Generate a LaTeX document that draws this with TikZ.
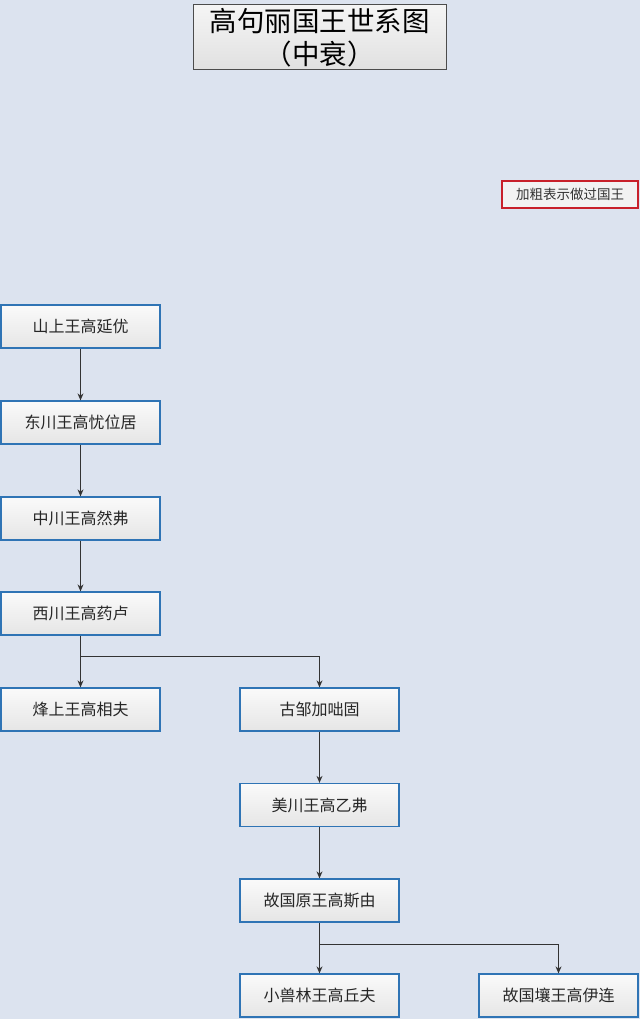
\documentclass[tikz,border=0pt]{standalone}
\usepackage{fontspec}
\newfontfamily\cjk{Noto Sans CJK SC}
\usetikzlibrary{arrows.meta}
\definecolor{bgcol}{HTML}{DCE3EF}
\definecolor{boxblue}{HTML}{2F74B5}
\definecolor{legred}{HTML}{C8202A}
\begin{document}
\begin{tikzpicture}[x=1pt,y=-1pt,
 box/.style={draw=boxblue, line width=1.3pt, top color=white!96!gray, bottom color=black!10, minimum width=159pt, minimum height=43pt, inner sep=0pt, font=\cjk\fontsize{16}{18}\selectfont, text=black!85},
 titlebox/.style={draw=black!70, line width=1pt, top color=white!92!gray, bottom color=black!12, minimum width=253pt, minimum height=65pt, inner sep=0pt, align=center, font=\cjk\fontsize{27.5}{33}\selectfont},
 legend/.style={draw=legred, line width=1.2pt, fill=black!5, minimum width=136pt, minimum height=27pt, inner sep=0pt, font=\cjk\fontsize{13.5}{15}\selectfont, text=black!80},
 conn/.style={draw=black!80, line width=1pt, -{Stealth[length=7pt,width=6pt]}},
]
\fill[bgcol] (0,0) rectangle (640,1019);
\useasboundingbox (0,0) rectangle (640,1019);

\node[titlebox] (title) at (319.5,37.5) {高句丽国王世系图\\（中衰）};
\node[legend] (leg) at (570,194.5) {加粗表示做过国王};

\node[box] (n1) at (80.5,326.5) {山上王高延优};
\node[box] (n2) at (80.5,422.5) {东川王高忧位居};
\node[box] (n3) at (80.5,518.5) {中川王高然弗};
\node[box] (n4) at (80.5,613.5) {西川王高药卢};
\node[box] (n5a) at (80.5,709.5) {烽上王高相夫};
\node[box] (n5b) at (319.5,709.5) {古邹加咄固};
\node[box] (n6) at (319.5,805) {美川王高乙弗};
\node[box] (n7) at (319.5,900.5) {故国原王高斯由};
\node[box] (n8a) at (319.5,995.5) {小兽林王高丘夫};
\node[box] (n8b) at (558.5,995.5) {故国壤王高伊连};

\coordinate (j1) at (80.5,656);
\coordinate (j2) at (319.5,944);

\draw[conn] (n1.south) -- (n2.north);
\draw[conn] (n2.south) -- (n3.north);
\draw[conn] (n3.south) -- (n4.north);
\draw[conn] (n4.south) -- (n5a.north);
\draw[conn] (j1) -| (n5b.north);
\draw[conn] (n5b.south) -- (n6.north);
\draw[conn] (n6.south) -- (n7.north);
\draw[conn] (n7.south) -- (n8a.north);
\draw[conn] (j2) -| (n8b.north);
\end{tikzpicture}
\end{document}
